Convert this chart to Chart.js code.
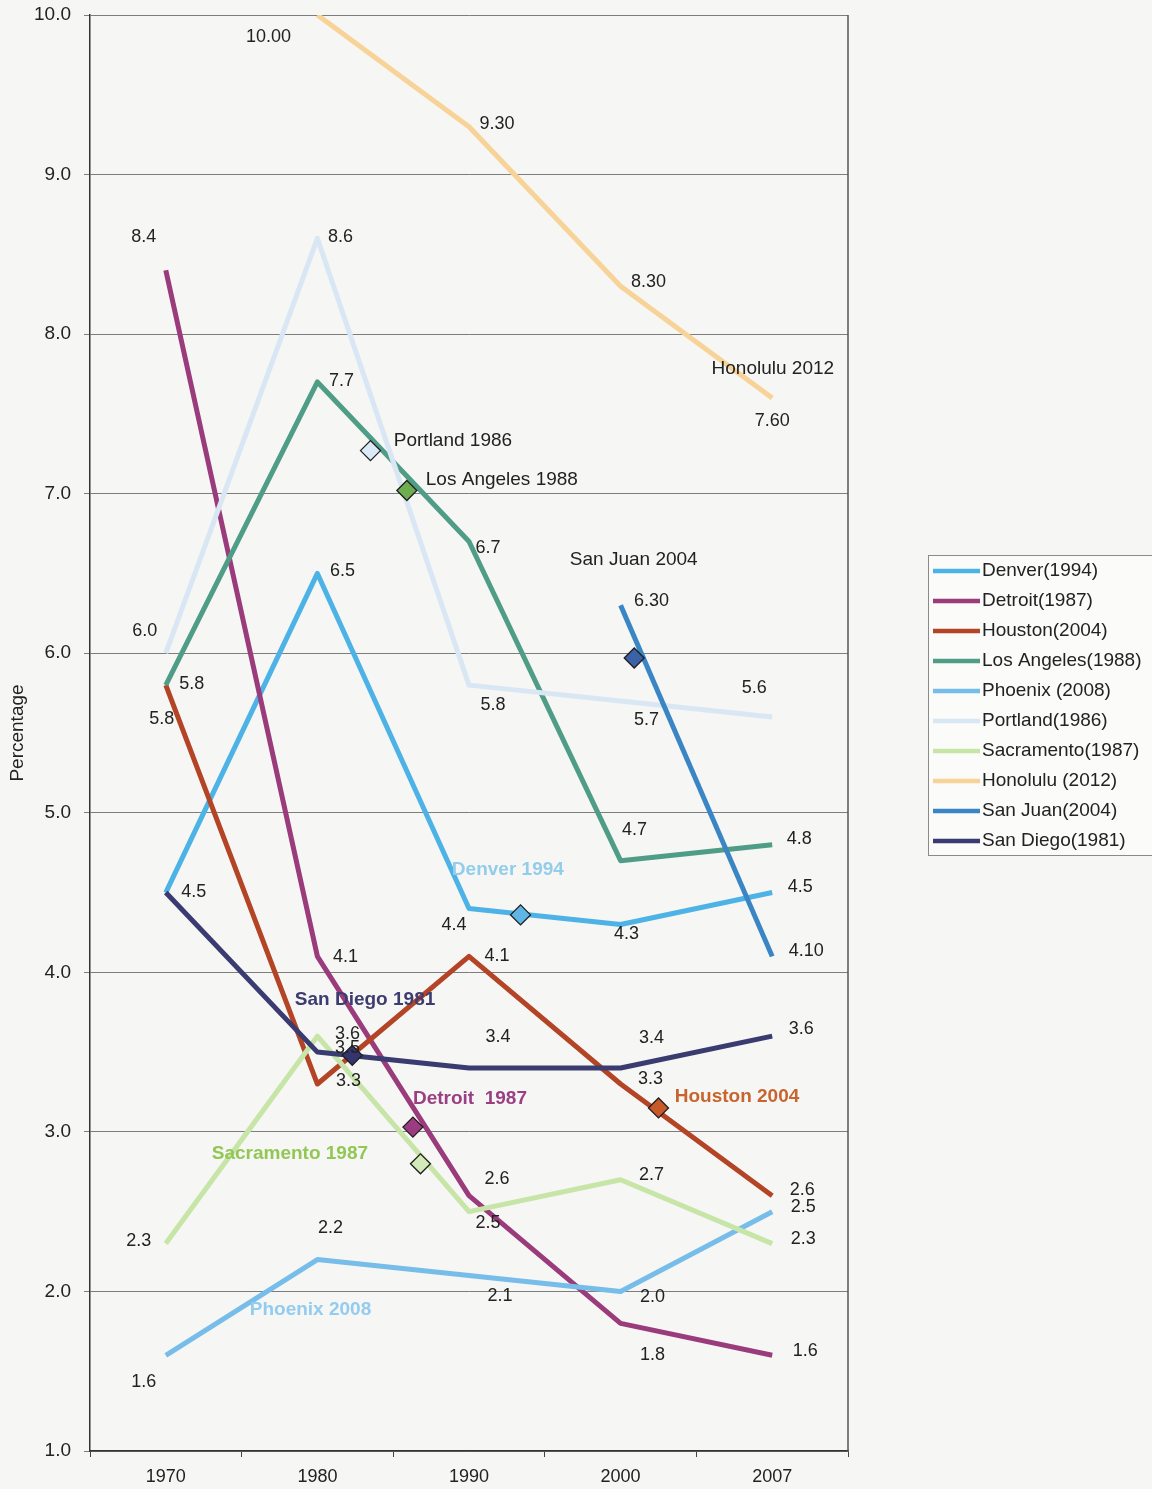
<!DOCTYPE html>
<html>
<head>
<meta charset="utf-8">
<title>Percentage by city, 1970–2007</title>
<script src="https://cdn.jsdelivr.net/npm/chart.js@4/dist/chart.umd.min.js"></script>
<style>
  html, body { margin: 0; padding: 0; background: #f6f6f4; }
  #wrap { width: 1152px; height: 1489px; }
  canvas { display: block; }
</style>
</head>
<body>
<div id="wrap"><canvas id="c" width="1152" height="1489"></canvas></div>
<script>
// ---- data ----
const years = ['1970', '1980', '1990', '2000', '2007'];

const denver     = [4.5, 6.5, 4.4, 4.3, 4.5];
const detroit    = [8.4, 4.1, 2.6, 1.8, 1.6];
const houston    = [5.8, 3.3, 4.1, 3.3, 2.6];
const losAngeles = [5.8, 7.7, 6.7, 4.7, 4.8];
const phoenix    = [1.6, 2.2, 2.1, 2.0, 2.5];
const portland   = [6.0, 8.6, 5.8, 5.7, 5.6];
const sacramento = [2.3, 3.6, 2.5, 2.7, 2.3];
const honolulu   = [null, 10.00, 9.30, 8.30, 7.60];
const sanJuan    = [null, null, null, 6.30, 4.10];
const sanDiego   = [4.5, 3.5, 3.4, 3.4, 3.6];

const seriesNames = ['Denver(1994)', 'Detroit(1987)', 'Houston(2004)', 'Los Angeles(1988)',
  'Phoenix (2008)', 'Portland(1986)', 'Sacramento(1987)', 'Honolulu (2012)',
  'San Juan(2004)', 'San Diego(1981)'];
const seriesValues = [denver, detroit, houston, losAngeles, phoenix, portland,
  sacramento, honolulu, sanJuan, sanDiego];
const seriesDecimals = [1, 1, 1, 1, 1, 1, 1, 2, 2, 1];

// event markers (x in category units, 0 = 1970)
const eventX = [1.35, 1.59, 2.34, 3.09, 1.23, 1.63, 1.68, 3.25];
const eventY = [7.27, 7.02, 4.36, 5.97, 3.48, 3.03, 2.80, 3.15];

// event captions
const captionText = ['Portland 1986', 'Los Angeles 1988', 'San Juan 2004', 'Honolulu 2012',
  'Denver 1994', 'San Diego 1981', 'Detroit  1987', 'Houston 2004', 'Sacramento 1987', 'Phoenix 2008'];
const captionX = [1.504, 1.715, 2.665, 3.60, 1.887, 0.851, 1.63, 3.357, 0.303, 0.554];
const captionY = [7.33, 7.09, 6.585, 7.78, 4.64, 3.83, 3.21, 3.22, 2.86, 1.886];

// ---- styles ----
const FONT = '"Liberation Sans", Arial, sans-serif';
const seriesColors = ['#4db2e6', '#9a3b7c', '#b44426', '#509d87', '#76bde9',
  '#d9e7f4', '#c6e5a6', '#f7d398', '#3a86c4', '#3a3b70'];
const eventFill = ['#dce9f6', '#6fae4f', '#5fb6e6', '#3b62a6', '#34356e', '#9c3a82', '#d3ebba', '#c85a2a'];
const captionColor = ['#222', '#222', '#222', '#222', '#93cdea', '#3d3c70', '#9b3f83', '#c8652f', '#92c756', '#93ccef'];
const captionBold = [false, false, false, false, true, true, true, true, true, true];

// value label offsets (px from the point), null = no label
const labelOffsets = [
  [[28, -1], [25, -2], [-15, 17], [6, 10], [28, -6]],
  [[-22, -33], [28, 1], [28, -17], [32, 32], [33, -4]],
  [[-4, 34], [31, -3], [28, 0], [30, -5], [30, -6]],
  [[26, -1], [24, -1], [19, 6], [14, -31], [27, -6]],
  [[-22, 27], [13, -32], [31, 21], [32, 6], [31, -5]],
  [[-21, -22], [23, -1], [24, 20], [26, 19], [-18, -29]],
  [[-27, -3], [30, -2], [19, 11], [31, -5], [31, -5]],
  [null, [-49, 22], [28, -3], [28, -4], [0, 23]],
  [null, null, null, [31, -4], [34, -5]],
  [null, [30, -4], [29, -31], [31, -30], [29, -7]]
];

const N = seriesNames.length;
const datasets = seriesNames.map((name, s) => ({
  label: name,
  data: seriesValues[s].map((v, i) => ({ x: i, y: v })),
  borderColor: seriesColors[s],
  backgroundColor: seriesColors[s],
  borderWidth: 5,
  borderJoinStyle: 'round',
  pointRadius: 0,
  pointHoverRadius: 0,
  tension: 0,
  spanGaps: false,
  order: N - s
}));

datasets.push({
  label: '_events',
  data: eventX.map((x, i) => ({ x: x, y: eventY[i] })),
  showLine: false,
  pointStyle: 'rectRot',
  pointRadius: 10,
  pointHoverRadius: 10,
  pointBackgroundColor: eventFill,
  pointBorderColor: '#1e1e1e',
  pointBorderWidth: 1.3,
  order: 0
});

// ---- plugins ----
const background = {
  id: 'background',
  beforeDraw(chart) {
    const ctx = chart.ctx;
    ctx.save();
    ctx.fillStyle = '#f6f6f4';
    ctx.fillRect(0, 0, chart.width, chart.height);
    ctx.restore();
  }
};

const frame = {
  id: 'frame',
  afterDraw(chart) {
    const { ctx, chartArea: a } = chart;
    ctx.save();
    ctx.strokeStyle = '#555';
    ctx.lineWidth = 1.5;
    ctx.beginPath();
    ctx.moveTo(a.right, a.top);
    ctx.lineTo(a.right, a.bottom);
    ctx.stroke();
    ctx.restore();
  }
};

const valueLabels = {
  id: 'valueLabels',
  afterDatasetsDraw(chart) {
    const ctx = chart.ctx;
    ctx.save();
    ctx.font = '18px ' + FONT;
    ctx.fillStyle = '#222';
    ctx.textAlign = 'center';
    ctx.textBaseline = 'middle';
    for (let s = 0; s < N; s++) {
      const meta = chart.getDatasetMeta(s);
      seriesValues[s].forEach((v, i) => {
        const off = labelOffsets[s][i];
        if (v == null || !off) return;
        const pt = meta.data[i];
        ctx.fillText(v.toFixed(seriesDecimals[s]), pt.x + off[0], pt.y + off[1]);
      });
    }
    ctx.restore();
  }
};

const captions = {
  id: 'captions',
  afterDatasetsDraw(chart) {
    const ctx = chart.ctx;
    const xs = chart.scales.x, ys = chart.scales.y;
    ctx.save();
    ctx.textAlign = 'left';
    ctx.textBaseline = 'middle';
    captionText.forEach((t, i) => {
      ctx.font = (captionBold[i] ? 'bold ' : '') + '19px ' + FONT;
      ctx.fillStyle = captionColor[i];
      ctx.fillText(t, xs.getPixelForValue(captionX[i]), ys.getPixelForValue(captionY[i]));
    });
    ctx.restore();
  }
};

const sideLegend = {
  id: 'sideLegend',
  afterDraw(chart) {
    const ctx = chart.ctx;
    const left = 928, top = 555, rowH = 30;
    ctx.save();
    ctx.fillStyle = '#fbfbfa';
    ctx.fillRect(left, top, 240, N * rowH + 1);
    ctx.strokeStyle = '#8a8a8a';
    ctx.lineWidth = 1;
    ctx.strokeRect(left + 0.5, top + 0.5, 240, N * rowH);
    ctx.font = '19px ' + FONT;
    ctx.textAlign = 'left';
    ctx.textBaseline = 'middle';
    for (let s = 0; s < N; s++) {
      const ds = chart.data.datasets[s];
      const y = top + 16 + s * rowH;
      ctx.strokeStyle = ds.borderColor;
      ctx.lineWidth = 4.5;
      ctx.beginPath();
      ctx.moveTo(left + 5, y);
      ctx.lineTo(left + 52, y);
      ctx.stroke();
      ctx.fillStyle = '#222';
      ctx.fillText(ds.label, left + 54, y);
    }
    ctx.restore();
  }
};

// ---- chart ----
new Chart(document.getElementById('c'), {
  type: 'line',
  data: { datasets: datasets },
  options: {
    responsive: false,
    devicePixelRatio: 1,
    animation: false,
    events: [],
    layout: { padding: { top: 15, left: 0, right: 304, bottom: 0 } },
    plugins: { legend: { display: false }, tooltip: { enabled: false } },
    scales: {
      x: { type: 'linear', min: -0.5, max: 4.5, display: false },
      xc: {
        type: 'category',
        labels: years,
        position: 'bottom',
        offset: true,
        grid: { offset: true, drawOnChartArea: false, drawTicks: true, tickLength: 6, color: '#444', lineWidth: 1 },
        border: { display: true, color: '#333', width: 1.5 },
        ticks: { font: { family: FONT, size: 18 }, color: '#222', padding: 9, maxRotation: 0 },
        afterFit(scale) { scale.height = 38; }
      },
      y: {
        type: 'linear',
        min: 1,
        max: 10,
        ticks: {
          stepSize: 1,
          font: { family: FONT, size: 19 },
          color: '#222',
          padding: 13,
          callback: (v) => Number(v).toFixed(1)
        },
        grid: { color: '#7d7d7d', lineWidth: 1, tickLength: 6 },
        border: { display: true, color: '#333', width: 1.5 },
        title: { display: true, text: 'Percentage', font: { family: FONT, size: 19 }, color: '#222', padding: { top: 6 } },
        afterFit(scale) {
          scale.width = 90;
          scale.paddingTop = 0;
          scale.paddingBottom = 0;
        }
      }
    }
  },
  plugins: [background, frame, valueLabels, captions, sideLegend]
});
</script>
</body>
</html>
